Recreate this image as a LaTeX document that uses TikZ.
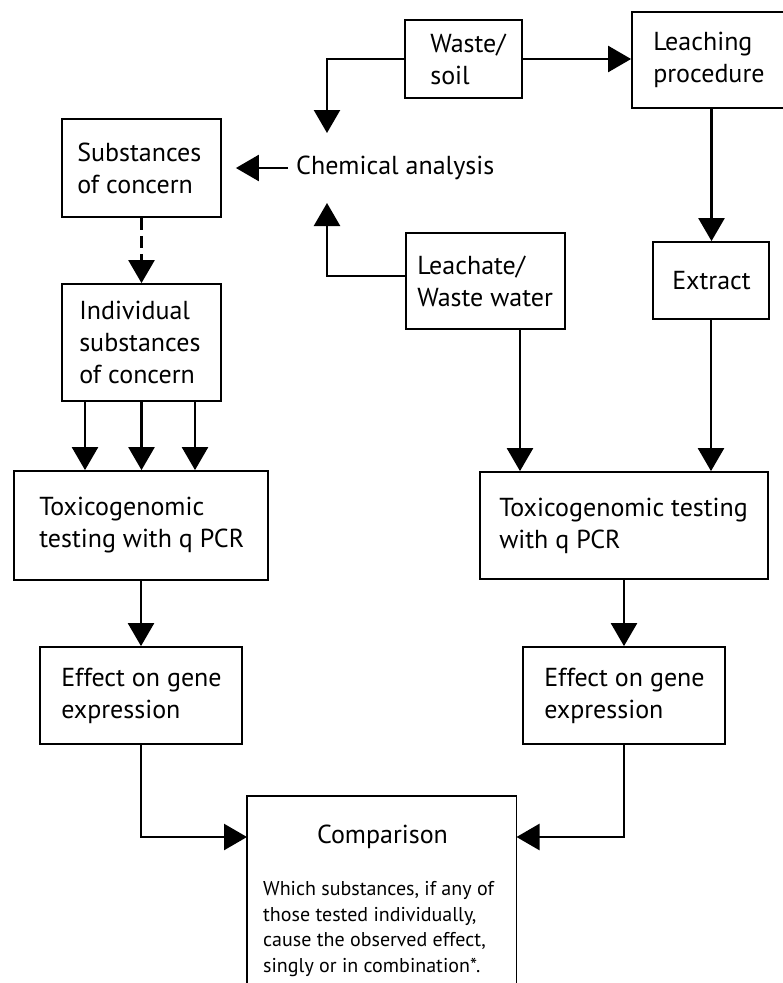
\documentclass[tikz,border=0pt]{standalone}
\usepackage{fontspec}
\setmainfont{PT Sans}
\usetikzlibrary{arrows.meta,calc}
\begin{document}
\begin{tikzpicture}[x=1pt,y=-1pt,
  box/.style={draw=black,line width=1.8pt,inner sep=0pt,rectangle},
  txt/.style={inner sep=0pt,anchor=west,align=left,font=\fontsize{26}{32}\selectfont},
  conn/.style={line width=2.5pt,-{Triangle[width=26pt,length=23pt]}},
  plain/.style={line width=2.5pt}]
\useasboundingbox (0,0) rectangle (783,983);
\clip (0,0) rectangle (783,983);
% boxes
\node[box,minimum width=117pt,minimum height=78pt] (waste) at (463.5,59) {};
\node[box,minimum width=159pt,minimum height=96pt] (leach) at (711.5,60) {};
\node[box,minimum width=159pt,minimum height=98pt] (subst) at (141.5,168) {};
\node[box,minimum width=159pt,minimum height=117pt] (indiv) at (141.5,342.5) {};
\node[box,minimum width=254pt,minimum height=109pt] (toxL) at (141,525.5) {};
\node[box,minimum width=202pt,minimum height=97pt] (effL) at (141,695.5) {};
\node[box,minimum width=159pt,minimum height=96pt] (leachate) at (485.5,281) {};
\node[box,minimum width=116pt,minimum height=77pt] (extract) at (711,280.5) {};
\node[box,minimum width=288pt,minimum height=107pt] (toxR) at (624,525.5) {};
\node[box,minimum width=202pt,minimum height=97pt] (effR) at (624,695.5) {};
\node[box,minimum width=269.5pt,minimum height=224pt] (comp) at (381.75,907.7) {};
% texts
\node[txt] (waste-t) at ($(waste.west)+(26,0)$) {Waste/\\soil};
\node[txt] (leach-t) at ($(leach.west)+(22,0)$) {Leaching\\procedure};
\node[txt] (chem) at (296,168) {Chemical analysis};
\node[txt] (subst-t) at ($(subst.west)+(16,0)$) {Substances\\of concern};
\node[txt] (indiv-t) at ($(indiv.west)+(18,0)$) {Individual\\substances\\of concern};
\node[txt] (toxL-t) at ($(toxL.west)+(26,0)$) {Toxicogenomic\\testing with q PCR};
\node[txt] (effL-t) at ($(effL.west)+(22,0)$) {Effect on gene\\expression};
\node[txt] (leachate-t) at ($(leachate.west)+(12,0)$) {Leachate/\\Waste water};
\node[txt] (extract-t) at ($(extract.west)+(20,0)$) {Extract};
\node[txt] (toxR-t) at ($(toxR.west)+(20,0)$) {Toxicogenomic testing\\with q PCR};
\node[txt] (effR-t) at ($(effR.west)+(22,0)$) {Effect on gene\\expression};
\node[inner sep=0pt,anchor=base,font=\fontsize{26}{30}\selectfont] (comp-title) at (382.5,843) {Comparison};
\node[inner sep=0pt,anchor=west,align=left,font=\fontsize{20}{25.5}\selectfont] (comp-body) at (263,929) {Which substances, if any of\\those tested individually,\\cause the observed effect,\\singly or in combination*.};
% coordinates
\coordinate (chemTop) at (327,133);
\coordinate (chemBot) at (327,203);
\coordinate (cinL) at (247,837);
\coordinate (cinR) at (516.5,837);
% connectors
\draw[conn] (waste.east) -- (leach.west |- waste.east);
\draw[conn] (waste.west) -| (chemTop);
\draw[conn] ([yshift=5pt]leachate.west) -| (chemBot);
\draw[conn] ([xshift=-8pt]chem.west) -- ([xshift=14pt]subst.east);
\draw[conn,dash pattern=on 12pt off 6pt] (subst.south) -- (indiv.north);
\draw[conn] ([xshift=-56.5pt]indiv.south) -- ([xshift=-56.5pt]indiv.south |- toxL.north);
\draw[conn] (indiv.south) -- (indiv.south |- toxL.north);
\draw[conn] ([xshift=53.5pt]indiv.south) -- ([xshift=53.5pt]indiv.south |- toxL.north);
\draw[conn] (toxL.south) -- (effL.north);
\draw[conn] (effL.south) |- (cinL);
\draw[conn] ([xshift=34.5pt]leachate.south) -- ([xshift=34.5pt]leachate.south |- toxR.north);
\draw[conn] (leach.south) -- (leach.south |- extract.north);
\draw[conn] (extract.south) -- (extract.south |- toxR.north);
\draw[conn] (toxR.south) -- (effR.north);
\draw[conn] (effR.south) |- (cinR);
\end{tikzpicture}
\end{document}
